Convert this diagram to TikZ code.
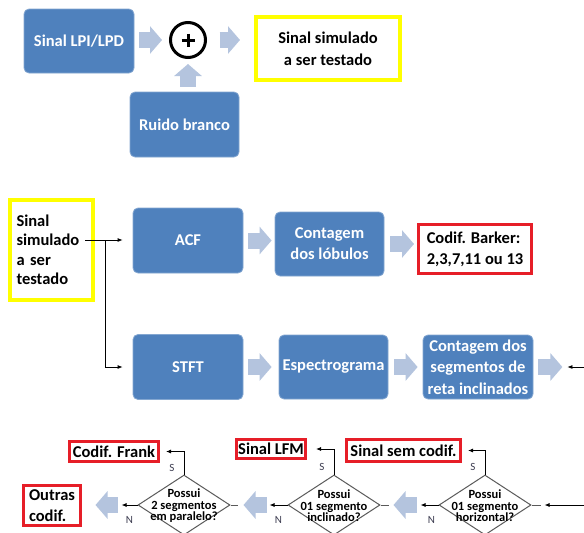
\documentclass[tikz,border=0pt]{standalone}
\usepackage{fontspec}
\setmainfont{Carlito}
\usetikzlibrary{shapes.geometric,arrows.meta,calc}
\definecolor{boxblue}{RGB}{79,129,189}
\definecolor{arrblue}{RGB}{180,196,222}
\definecolor{ylw}{RGB}{255,255,0}
\definecolor{rd}{RGB}{230,30,40}
\definecolor{lblc}{RGB}{60,60,80}
\definecolor{dgray}{RGB}{90,90,90}
\begin{document}
\begin{tikzpicture}[x=1pt,y=-1pt,
 bbox/.style={rectangle, rounded corners=5pt, fill=boxblue, draw=boxblue!70!white, line width=0.8pt, text=white, font=\fontsize{16.5}{21}\selectfont\bfseries, align=center, inner sep=0pt},
 ybox/.style={rectangle, draw=ylw, line width=4pt, inner sep=0pt},
 rbox/.style={rectangle, draw=rd, line width=3pt, fill=white, inner sep=0pt, align=left, font=\fontsize{16.5}{21}\selectfont\bfseries},
 dia/.style={diamond, draw=dgray, line width=1pt, minimum width=92pt, minimum height=60pt, inner sep=0pt},
 dtxt/.style={font=\fontsize{12.5}{11.5}\selectfont\bfseries, align=center, inner sep=0pt},
 lbl/.style={font=\fontsize{11}{12}\selectfont, text=lblc, inner sep=0pt},
 conn/.style={draw=black, line width=0.8pt, -{Latex[length=5pt,width=4pt]}},
 thinl/.style={draw=dgray, line width=0.8pt},
 barrow/.style={draw=arrblue, line width=16pt, -{Triangle[width=27pt,length=12pt]}},
]
\useasboundingbox (0,0) rectangle (584,533);
\fill[white] (0,0) rectangle (584,533);

% top section
\node[bbox, minimum width=110pt, minimum height=64pt] (lpi) at (79,41) {Sinal LPI/LPD};
\node[circle, draw=black, line width=3pt, minimum size=35pt, inner sep=0pt] (sum) at (188,40) {};
\draw[line width=3pt] ($(sum.center)+(-6.5,0)$) -- ($(sum.center)+(6.5,0)$)
  ($(sum.center)+(0,-6.5)$) -- ($(sum.center)+(0,6.5)$);
\node[ybox, minimum width=144pt, minimum height=63pt, align=center, font=\fontsize{16.5}{22}\selectfont\bfseries] (y1) at (328,48.5) {Sinal simulado\\a ser testado};
\node[bbox, minimum width=109pt, minimum height=65pt] (ruido) at (184.5,124.5) {Ruido branco};

\draw[barrow, shorten <=5pt, shorten >=7pt] (lpi.east |- sum.center) -- (sum.west);
\draw[barrow, shorten <=12.5pt, shorten >=14pt] (sum.east) -- (sum.east -| y1.west);
\draw[barrow, shorten <=5pt, shorten >=5pt] (sum.south |- ruido.north) -- (sum.south);

% middle section
\node[ybox, minimum width=83pt, minimum height=100pt, align=left, text width=70pt, font=\fontsize{16.5}{19.5}\selectfont\bfseries] (y2) at (51.5,250) {Sinal\\simulado\\a ser\\testado};
\coordinate (src) at (85,240);
\coordinate (j) at (105,240);
\node[bbox, minimum width=110pt, minimum height=65pt] (acf) at (188,240.5) {ACF};
\node[bbox, minimum width=109pt, minimum height=64pt] (lob) at (329.5,244) {Contagem\\dos lóbulos};
\node[rbox, minimum width=113pt, minimum height=49pt] (barker) at (475,249) {Codif. Barker:\\2,3,7,11 ou 13};
\node[bbox, minimum width=110pt, minimum height=65pt] (stft) at (188,367) {STFT};
\node[bbox, minimum width=109pt, minimum height=64pt] (spec) at (333.5,367) {Espectrograma};
\node[bbox, minimum width=110pt, minimum height=64pt, font=\fontsize{16.5}{21.5}\selectfont\bfseries] (seg) at (478,367) {Contagem dos\\segmentos de\\reta inclinados};

\draw[line width=0.8pt] (src) -- (j);
\draw[conn, shorten >=10pt] (j) -- (j -| acf.west);
\draw[conn, shorten >=10pt] (j) |- (stft.west);

\draw[barrow, shorten <=5pt, shorten >=3pt] (acf.east) -- (acf.east -| lob.west);
\draw[barrow, shorten <=6pt, shorten >=3pt] (lob.east) -- (lob.east -| barker.west);
\draw[barrow, shorten <=5pt, shorten >=7pt] (stft.east) -- (spec.west);
\draw[barrow, shorten <=6pt, shorten >=5pt] (spec.east) -- (seg.west);
\draw[barrow, shorten <=5pt] (seg.east) -- ++(29,0);

\coordinate (e1) at (584,367);
\draw[conn] (e1) -- ($(seg.east)+(34,0)$);

% bottom section
\node[dia] (d3) at (485,505) {};
\node[dia] (d2) at (334,505) {};
\node[dia] (d1) at (184,505) {};
\node[dtxt] (d3t) at (485,506) {Possui\\01 segmento\\horizontal?};
\node[dtxt] (d2t) at (334,506) {Possui\\01 segmento\\inclinado?};
\node[dtxt] (d1t) at (184,506) {Possui\\2 segmentos\\em paralelo?};

\node[rbox, minimum width=89pt, minimum height=20pt] (frank) at (114,451.5) {Codif. Frank};
\node[rbox, minimum width=69pt, minimum height=19pt] (lfm) at (271,449) {Sinal LFM};
\node[rbox, minimum width=114pt, minimum height=22pt] (sem) at (403.5,450.5) {Sinal sem codif.};
\node[rbox, minimum width=57pt, minimum height=40pt] (outras) at (52,505.5) {Outras\\codif.};

\draw[conn, shorten >=6pt] (d1.north) |- (frank.east);
\draw[conn, shorten >=9pt] (d2.north) |- (lfm.east);
\draw[conn, shorten >=6pt] (d3.north) |- (sem.east);

\draw[conn] (d3.west) -- ++(-18,0);
\draw[conn] (d2.west) -- ++(-18,0);
\draw[conn] (d1.west) -- ++(-16,0);

\draw[thinl] (d3.east) -- ++(9,0);
\draw[thinl] (d2.east) -- ++(8,0);
\draw[thinl] (d1.east) -- ++(7,0);
\coordinate (e2) at (584,505);
\draw[conn] (e2) -- ($(d3.east)+(13,0)$);

\draw[barrow, shorten <=22pt, shorten >=13pt] (d3.west) -- (d2.east);
\draw[barrow, shorten <=21pt, shorten >=13pt] (d2.west) -- (d1.east);
\draw[barrow, shorten <=20pt, shorten >=13.5pt] (d1.west) -- (d1.west -| outras.east);

\node[lbl] (s1) at ($(d1.north)+(-12,-7)$) {S};
\node[lbl] (s2) at ($(d2.north)+(-12,-8)$) {S};
\node[lbl] (s3) at ($(d3.north)+(-12,-8)$) {S};
\node[lbl] (n1) at ($(d1.west)+(-8,15)$) {N};
\node[lbl] (n2) at ($(d2.west)+(-9,15)$) {N};
\node[lbl] (n3) at ($(d3.west)+(-7,15)$) {N};
\end{tikzpicture}
\end{document}
